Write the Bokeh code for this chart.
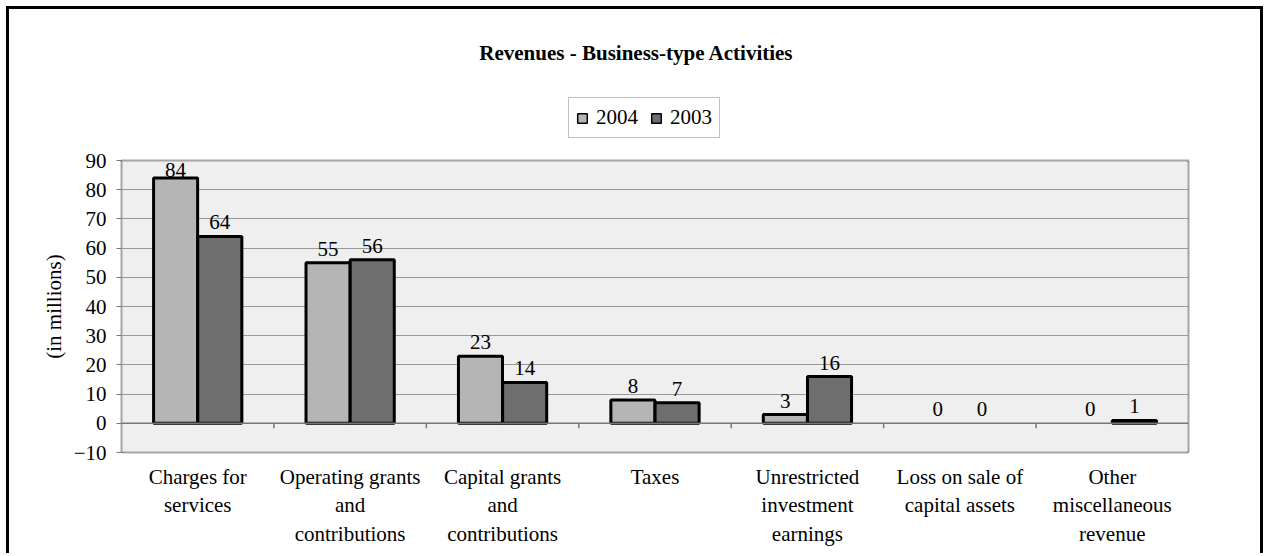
import numpy as np
from bokeh.plotting import figure
from bokeh.layouts import column
from bokeh.models import ColumnDataSource, FixedTicker, Legend, LegendItem, Span
from bokeh.core.properties import value
from bokeh.embed import file_html
from bokeh.resources import INLINE

categories = ["Charges for\nservices", "Operating grants\nand\ncontributions",
              "Capital grants\nand\ncontributions", "Taxes",
              "Unrestricted\ninvestment\nearnings", "Loss on sale of\ncapital assets",
              "Other\nmiscellaneous\nrevenue"]
series = ["2004", "2003"]
vals_2004 = [84, 55, 23, 8, 3, 0, 0]
vals_2003 = [64, 56, 14, 7, 16, 0, 1]
y_ticks = [-10, 0, 10, 20, 30, 40, 50, 60, 70, 80, 90]
title_text = "Revenues - Business-type Activities"
y_label = "(in millions)"

FONT = "Liberation Serif"
FS = "21px"
COLORS = ["#b5b5b5", "#6e6e6e"]
W = 1257
H_HEAD = 140
FRAME_W = 1067  # header frame is aligned with the chart frame by the column layout
n = len(categories)
centers = np.arange(n) + 0.5
bw = 0.289
off = 0.145

# ---------- header: title + legend ----------
head = figure(width=W, height=H_HEAD, x_range=(0, FRAME_W), y_range=(0, H_HEAD),
              x_axis_type=None, y_axis_type=None, output_backend="svg",
              toolbar_location=None, min_border=0)
head.styles = {"border-left": "3px solid black", "border-top": "3px solid black",
               "border-right": "3px solid black", "margin-left": "6px", "margin-top": "6px"}
head.outline_line_color = None
head.background_fill_color = "white"
head.border_fill_color = "white"
head.text(x=[515], y=[H_HEAD - 43], text=[title_text], text_align="center",
          text_baseline="middle", text_font=value(FONT), text_font_size=FS,
          text_font_style="bold", text_color="black")
# legend-only renderers, placed outside the visible range
dummies = [head.vbar(x=[-1000], top=[0], width=1, fill_color=c, line_color="black",
                     line_width=1.5) for c in COLORS]
legend = Legend(items=[LegendItem(label=s, renderers=[r]) for s, r in zip(series, dummies)],
                orientation="horizontal", location=(447, 11),
                border_line_color="#808080", border_line_width=1,
                padding=7, spacing=12, glyph_width=12, glyph_height=12,
                label_standoff=8, label_text_font=FONT, label_text_font_size=FS,
                label_text_color="black", margin=0, background_fill_color="white")
head.add_layout(legend)

# ---------- main chart ----------
p = figure(width=W, height=407, x_range=(0, n),
           y_range=(y_ticks[0], y_ticks[-1]), output_backend="svg", toolbar_location=None,
           min_border_left=112, min_border_right=78, min_border_top=14, min_border_bottom=101)
p.styles = {"border-left": "3px solid black", "border-right": "3px solid black",
            "margin-left": "6px"}
p.background_fill_color = "#efefef"
p.border_fill_color = "white"
p.outline_line_color = "#555555"
p.outline_line_width = 2
p.outline_line_dash = "1 1"

p.xgrid.visible = False
p.ygrid.grid_line_color = "#999999"
p.ygrid.grid_line_width = 1
p.ygrid.ticker = FixedTicker(ticks=y_ticks)

p.add_layout(Span(location=0, dimension="width", line_color="#777777", line_width=1.5))
bounds = np.arange(1, n)
p.segment(x0=bounds, y0=np.zeros(len(bounds)), x1=bounds, y1=np.full(len(bounds), -1.7),
          line_color="#777777", line_width=1.5)

def bar_source(vals, shift):
    v = np.array(vals, dtype=float)
    mask = v != 0
    return ColumnDataSource(dict(x=(centers + shift)[mask], top=v[mask]))

p.vbar(x="x", top="top", bottom=0, width=bw, source=bar_source(vals_2004, -off),
       fill_color=COLORS[0], line_color="black", line_width=3)
p.vbar(x="x", top="top", bottom=0, width=bw, source=bar_source(vals_2003, off),
       fill_color=COLORS[1], line_color="black", line_width=3)

lab_x = np.concatenate([centers - off, centers + off])
lab_v = np.array(vals_2004 + vals_2003, dtype=float)
lab_y = np.minimum(lab_v, y_ticks[-1] - 8)
lab_src = ColumnDataSource(dict(x=lab_x, y=lab_y, t=[str(int(v)) for v in lab_v]))
p.text(x="x", y="y", text="t", source=lab_src, text_align="center", text_baseline="bottom",
       y_offset=-7, text_font=value(FONT), text_font_size=FS, text_color="black")

p.xaxis.ticker = FixedTicker(ticks=list(centers))
p.xaxis.major_label_overrides = {float(c): lab for c, lab in zip(centers, categories)}
p.xaxis.axis_line_color = None
p.xaxis.major_tick_line_color = None
p.xaxis.minor_tick_line_color = None
p.xaxis.major_label_standoff = 6
p.xaxis.major_label_text_font = FONT
p.xaxis.major_label_text_font_size = FS
p.xaxis.major_label_text_color = "black"
p.xaxis.major_label_text_line_height = 1.2

p.yaxis.ticker = FixedTicker(ticks=y_ticks)
p.yaxis.axis_line_color = None
p.yaxis.major_tick_line_color = "#777777"
p.yaxis.major_tick_out = 5
p.yaxis.major_tick_in = 0
p.yaxis.minor_tick_line_color = None
p.yaxis.major_label_standoff = 10
p.yaxis.major_label_text_font = FONT
p.yaxis.major_label_text_font_size = FS
p.yaxis.major_label_text_color = "black"
p.yaxis.axis_label = y_label
p.yaxis.axis_label_text_font = FONT
p.yaxis.axis_label_text_font_size = FS
p.yaxis.axis_label_text_font_style = "normal"
p.yaxis.axis_label_text_color = "black"
p.yaxis.axis_label_standoff = 5

layout = column(head, p, spacing=0)
open("out.html", "w").write(file_html(layout, INLINE))
